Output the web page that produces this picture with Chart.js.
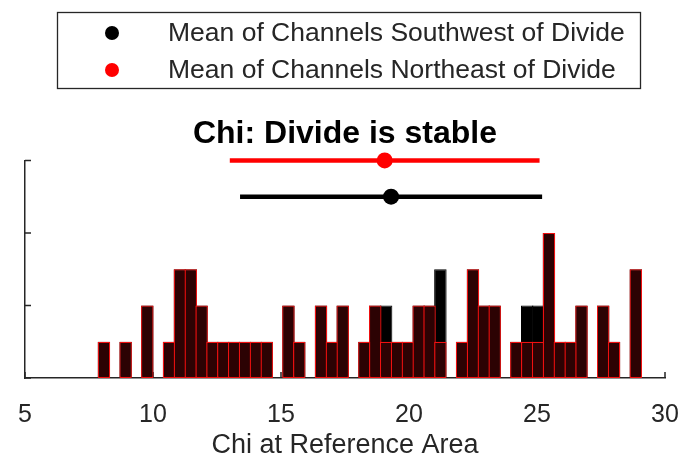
<!DOCTYPE html>
<html>
<head>
<meta charset="utf-8">
<script src="https://cdn.jsdelivr.net/npm/chart.js@4.4.0/dist/chart.umd.min.js"></script>
<style>
  html, body { margin: 0; padding: 0; background: #ffffff; }
  #wrap { width: 688px; height: 472px; }
</style>
</head>
<body>
<div id="wrap"><canvas id="chi" width="688" height="472"></canvas></div>
<script>
// Histogram bins of chi (bin centres, equal width)
const binCenters = [
  8.082, 8.506, 8.930, 9.354, 9.778, 10.202, 10.626, 11.050, 11.474, 11.898,
  12.322, 12.746, 13.170, 13.594, 14.018, 14.442, 14.866, 15.290, 15.714, 16.138,
  16.562, 16.986, 17.410, 17.834, 18.258, 18.682, 19.106, 19.530, 19.954, 20.378,
  20.802, 21.226, 21.650, 22.074, 22.498, 22.922, 23.346, 23.770, 24.194, 24.618,
  25.042, 25.466, 25.890, 26.314, 26.738, 27.162, 27.586, 28.010, 28.434, 28.858
];
// Channel counts per bin
const southwestCounts = [
  1, 0, 1, 0, 2, 0, 1, 3, 3, 2,
  1, 1, 1, 1, 1, 1, 0, 2, 1, 0,
  2, 1, 2, 0, 1, 2, 2, 1, 1, 2,
  2, 3, 0, 1, 3, 2, 2, 0, 1, 2,
  2, 4, 1, 1, 2, 0, 2, 1, 0, 3
];
const northeastCounts = [
  1, 0, 1, 0, 2, 0, 1, 3, 3, 2,
  1, 1, 1, 1, 1, 1, 0, 2, 1, 0,
  2, 1, 2, 0, 1, 2, 1, 1, 1, 2,
  2, 1, 0, 1, 3, 2, 2, 0, 1, 1,
  1, 4, 1, 1, 2, 0, 2, 1, 0, 3
];
// Group means with their spread, drawn above the histogram
const seriesNames = ['Mean of Channels Southwest of Divide', 'Mean of Channels Northeast of Divide'];
const seriesColors = ['#000000', '#ff0000'];
const meanChi = [19.3, 19.05];
const spreadLow = [13.4, 13.0];
const spreadHigh = [25.2, 25.1];
const meanLevel = [5, 6];
// Axis ticks
const xTicks = [5, 10, 15, 20, 25, 30];
const yTicks = [0, 2, 4, 6];

const AXIS = '#262626';
const FONT = "'Liberation Sans', Arial, sans-serif";

const toPoints = (counts) => binCenters.map((x, i) => ({ x: x, y: counts[i] }));

const barCommon = {
  type: 'bar',
  grouped: false,
  barPercentage: 1.15,
  categoryPercentage: 1,
  borderSkipped: false
};

const datasets = [
  Object.assign({}, barCommon, {
    label: 'Northeast',
    data: toPoints(northeastCounts),
    backgroundColor: '#2c0203',
    borderColor: '#f01010',
    borderWidth: 1.3,
    order: 2
  }),
  Object.assign({}, barCommon, {
    label: 'Southwest',
    data: toPoints(southwestCounts),
    backgroundColor: '#000000',
    borderColor: '#000000',
    borderWidth: 1,
    order: 3
  })
];

// Spread lines and mean markers for each group
[0, 1].forEach((g) => {
  datasets.push({
    type: 'line',
    label: seriesNames[g] + ' range',
    data: [{ x: spreadLow[g], y: meanLevel[g] }, { x: spreadHigh[g], y: meanLevel[g] }],
    borderColor: seriesColors[g],
    borderWidth: 4.5,
    pointRadius: 0,
    clip: false,
    order: 1
  });
  datasets.push({
    type: 'line',
    label: seriesNames[g],
    data: [{ x: meanChi[g], y: meanLevel[g] }],
    showLine: false,
    pointRadius: 8,
    pointBackgroundColor: seriesColors[g],
    pointBorderColor: seriesColors[g],
    pointBorderWidth: 0,
    clip: false,
    order: 0
  });
});

// Inward tick marks on both axes (drawn under the bars)
const inwardTicks = {
  id: 'inwardTicks',
  beforeDatasetsDraw(chart) {
    const { ctx, scales: { x, y } } = chart;
    ctx.save();
    ctx.strokeStyle = AXIS;
    ctx.lineWidth = 1.5;
    ctx.beginPath();
    xTicks.forEach((v) => {
      const px = x.getPixelForValue(v);
      ctx.moveTo(px, y.bottom);
      ctx.lineTo(px, y.bottom - 6);
    });
    yTicks.forEach((v) => {
      const py = y.getPixelForValue(v);
      ctx.moveTo(x.left, py);
      ctx.lineTo(x.left + 6, py);
    });
    ctx.stroke();
    ctx.restore();
  }
};

// Boxed legend for the two group means
const meanLegend = {
  id: 'meanLegend',
  afterDraw(chart) {
    const ctx = chart.ctx;
    const box = { left: 57.5, top: 12.5, right: 640.5, bottom: 88.5 };
    const rows = [34, 71];
    ctx.save();
    ctx.fillStyle = '#ffffff';
    ctx.fillRect(box.left, box.top, box.right - box.left, box.bottom - box.top);
    ctx.strokeStyle = AXIS;
    ctx.lineWidth = 1.3;
    ctx.strokeRect(box.left, box.top, box.right - box.left, box.bottom - box.top);
    ctx.font = '26.5px ' + FONT;
    ctx.textBaseline = 'middle';
    ctx.textAlign = 'left';
    seriesNames.forEach((name, i) => {
      ctx.fillStyle = seriesColors[i];
      ctx.beginPath();
      ctx.arc(112, rows[i] - 1, 7, 0, Math.PI * 2);
      ctx.fill();
      ctx.fillStyle = AXIS;
      ctx.fillText(name, 168, rows[i]);
    });
    ctx.restore();
  }
};

new Chart(document.getElementById('chi'), {
  data: { datasets: datasets },
  options: {
    responsive: false,
    devicePixelRatio: 1,
    animation: false,
    layout: { padding: { top: 100, left: 25, right: 23, bottom: 0 } },
    plugins: {
      legend: { display: false },
      tooltip: { enabled: false },
      title: {
        display: true,
        text: 'Chi: Divide is stable',
        color: '#000000',
        font: { family: FONT, size: 32, weight: 'bold' },
        padding: { top: 15, bottom: 7 }
      }
    },
    scales: {
      x: {
        type: 'linear',
        min: 5,
        max: 30,
        offset: false,
        afterBuildTicks: (scale) => { scale.ticks = xTicks.map((v) => ({ value: v })); },
        ticks: {
          color: AXIS,
          font: { family: FONT, size: 25, lineHeight: '58px' },
          padding: 8,
          maxRotation: 0,
          autoSkip: false
        },
        grid: { display: false, drawTicks: false, offset: false },
        border: { display: true, color: AXIS, width: 1.5 },
        title: {
          display: true,
          text: 'Chi at Reference Area',
          color: AXIS,
          font: { family: FONT, size: 27 },
          padding: { top: -22.4, bottom: 10 }
        }
      },
      y: {
        type: 'linear',
        min: 0,
        max: 6,
        afterBuildTicks: (scale) => { scale.ticks = yTicks.map((v) => ({ value: v })); },
        ticks: { display: false },
        grid: { display: false, drawTicks: false },
        border: { display: true, color: AXIS, width: 1.5 }
      }
    }
  },
  plugins: [inwardTicks, meanLegend]
});
</script>
</body>
</html>
